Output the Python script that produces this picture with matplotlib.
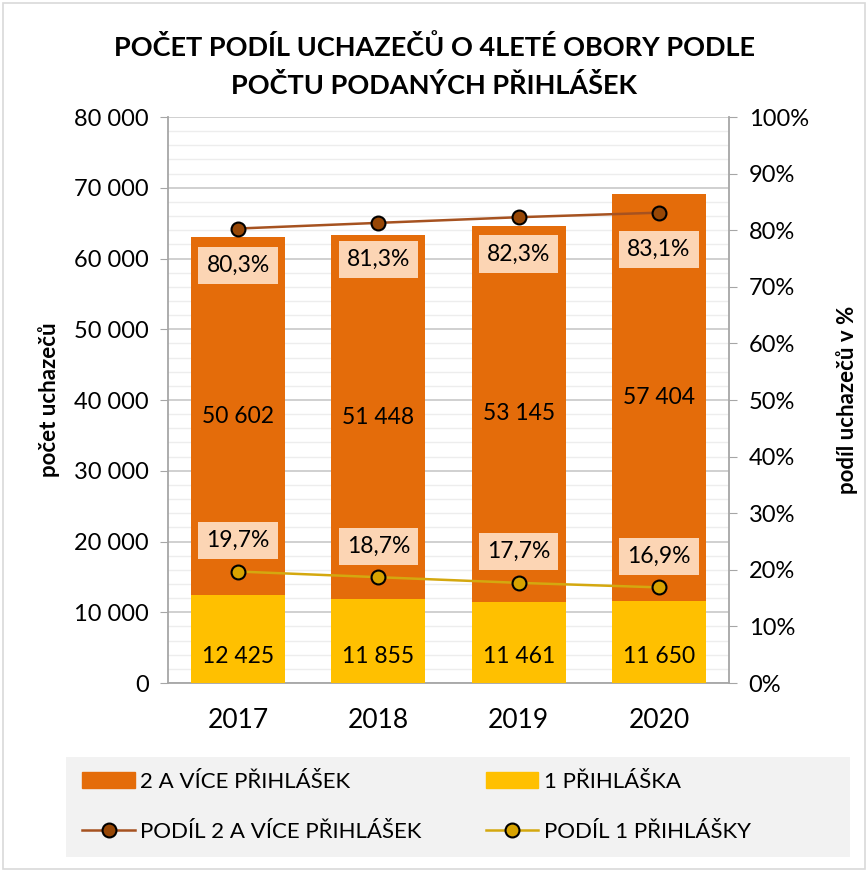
import matplotlib.pyplot as plt
import numpy as np
from matplotlib.ticker import MultipleLocator, FuncFormatter
from matplotlib.lines import Line2D
from matplotlib.patches import Patch

plt.rcParams['font.family'] = ['Lato', 'DejaVu Sans']

# data
roky = ['2017', '2018', '2019', '2020']
jedna = [12425, 11855, 11461, 11650]
dve_vice = [50602, 51448, 53145, 57404]
podil_dve = [80.3, 81.3, 82.3, 83.1]
podil_jedna = [19.7, 18.7, 17.7, 16.9]

c_orange = '#E46C0A'
c_yellow = '#FFC000'
c_brown_line = '#A65220'
c_brown_mk = '#974706'
c_gold_line = '#D4A80F'
c_gold_mk = '#D8A300'
c_spine = '#A6A6A6'

def fmt(v):
    return f'{v:,.0f}'.replace(',', ' ')

fig = plt.figure(figsize=(8.68, 8.72), dpi=100)
ax = fig.add_axes([0.1935, 0.2167, 0.6465, 0.6491])
x = np.arange(len(roky))

ax.bar(x, jedna, width=0.67, color=c_yellow, zorder=3)
ax.bar(x, dve_vice, width=0.67, bottom=jedna, color=c_orange, zorder=3)

ax.set_xlim(-0.5, 3.5)
ax.set_ylim(0, 80000)
ax.yaxis.set_major_locator(MultipleLocator(10000))
ax.yaxis.set_minor_locator(MultipleLocator(2000))
ax.yaxis.set_major_formatter(FuncFormatter(lambda v, p: fmt(v)))
ax.grid(axis='y', which='major', color='#C8C8C8', lw=1.2, zorder=0)
ax.grid(axis='y', which='minor', color='#EDEDED', lw=1.0, zorder=0)
ax.set_xticks(x)
ax.set_xticklabels(roky, fontsize=19)
ax.tick_params(axis='x', length=0, pad=18)
ax.tick_params(axis='y', which='major', labelsize=17, length=6, color=c_spine,
               direction='out', pad=8)
ax.tick_params(axis='y', which='minor', length=0)
ax.spines['top'].set_visible(False)
for s in ['left', 'bottom', 'right']:
    ax.spines[s].set_color(c_spine)
    ax.spines[s].set_linewidth(1.3)
ax.set_ylabel('počet uchazečů', fontsize=16, fontweight='bold', labelpad=10)

for i in x:
    ax.text(i, 3800, fmt(jedna[i]), ha='center', va='center', fontsize=16.5, zorder=5)
    ax.text(i, jedna[i] + dve_vice[i] / 2, fmt(dve_vice[i]), ha='center', va='center',
            fontsize=16.5, zorder=5)

ax2 = ax.twinx()
ax2.set_ylim(0, 100)
ax2.yaxis.set_major_locator(MultipleLocator(10))
ax2.yaxis.set_major_formatter(FuncFormatter(lambda v, p: f'{v:.0f}%'))
ax2.tick_params(axis='y', labelsize=17, length=6, color=c_spine, direction='out', pad=8)
for s in ax2.spines.values():
    s.set_visible(False)
ax2.set_ylabel('podíl uchazečů v %', fontsize=16, fontweight='bold', labelpad=20)

ax2.plot(x, podil_dve, color=c_brown_line, lw=1.8, marker='o', ms=10,
         mfc=c_brown_mk, mec='black', mew=1.5, zorder=6)
ax2.plot(x, podil_jedna, color=c_gold_line, lw=1.8, marker='o', ms=10,
         mfc=c_gold_mk, mec='black', mew=1.5, zorder=6)

box = dict(boxstyle='square,pad=0.35', fc='#FCD5B4', ec='none')
for i in x:
    ax2.text(i, podil_dve[i] - 6.5, f'{podil_dve[i]:.1f}%'.replace('.', ','),
             ha='center', va='center', fontsize=16.5, bbox=box, zorder=7)
    ax2.text(i, podil_jedna[i] + 5.5, f'{podil_jedna[i]:.1f}%'.replace('.', ','),
             ha='center', va='center', fontsize=16.5, bbox=box, zorder=7)

fig.text(0.5, 0.924, 'POČET PODÍL UCHAZEČŮ O 4LETÉ OBORY PODLE\nPOČTU PODANÝCH PŘIHLÁŠEK',
         ha='center', va='center', fontsize=19.5, fontweight='bold', linespacing=1.6)

# legend background
fig.patches.append(plt.Rectangle((0.076, 0.017), 0.903, 0.115, transform=fig.transFigure,
                                 fc='#F2F2F2', ec='none'))

handles = [Patch(color=c_orange),
           Line2D([], [], color=c_brown_line, lw=1.8, marker='o', ms=10,
                  mfc=c_brown_mk, mec='black', mew=1.5),
           Patch(color=c_yellow),
           Line2D([], [], color=c_gold_line, lw=1.8, marker='o', ms=10,
                  mfc=c_gold_mk, mec='black', mew=1.5)]
labels = ['2 A VÍCE PŘIHLÁŠEK', 'PODÍL 2 A VÍCE PŘIHLÁŠEK',
          '1 PŘIHLÁŠKA', 'PODÍL 1 PŘIHLÁŠKY']
leg = fig.legend(handles, labels, ncol=2, loc='center left',
                 bbox_to_anchor=(0.095, 0.0745), frameon=False,
                 fontsize=16, borderpad=0.0, borderaxespad=0.0,
                 labelspacing=1.35, handlelength=2.35, handletextpad=0.25,
                 columnspacing=2.9)

fig.patches.append(plt.Rectangle((0.004, 0.003), 0.992, 0.994, transform=fig.transFigure,
                                 fill=False, ec='#D9D9D9', lw=1.2))

fig.savefig('out.png', dpi=100)
